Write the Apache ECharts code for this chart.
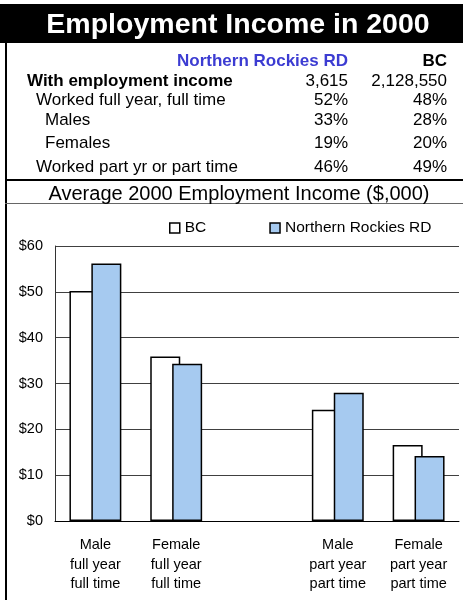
<!DOCTYPE html>
<html>
<head>
<meta charset="utf-8">
<script src="https://cdn.jsdelivr.net/npm/echarts@6/dist/echarts.min.js"></script>
<style>
html,body{margin:0;padding:0;background:#fff;}
#chart{width:463px;height:600px;}
</style>
</head>
<body>
<div id="chart"></div>
<script>
// ---- Data ----
var titleText = 'Employment Income in 2000';
var subtitleText = 'Average 2000 Employment Income ($,000)';
var tableHeaders = ['Northern Rockies RD', 'BC'];
var rowLabels = ['With employment income', 'Worked full year, full time', 'Males', 'Females', 'Worked part yr or part time'];
var nrTable = ['3,615', '52%', '33%', '19%', '46%'];
var bcTable = ['2,128,550', '48%', '28%', '20%', '49%'];

var categories = ['Male\nfull year\nfull time', 'Female\nfull year\nfull time', '', 'Male\npart year\npart time', 'Female\npart year\npart time'];
var seriesNames = ['BC', 'Northern Rockies RD'];
var bcValues = [50.2, 35.9, null, 24.3, 16.6];
var nrValues = [56.2, 34.3, null, 28.0, 14.2];

// ---- Layout ----
var FONT = 'Liberation Sans, Arial, sans-serif';
var rowY = [81, 100, 120, 143, 167];
var rowX = [27, 36, 45, 45, 36];
var rowBold = [true, false, false, false, false];

var graphics = [
  {type:'rect', shape:{x:0,y:4,width:463,height:39}, style:{fill:'#000'}},
  {type:'text', x:238, y:25, style:{text:titleText, fill:'#fff', font:'bold 28.5px ' + FONT, textAlign:'center', textVerticalAlign:'middle'}},
  {type:'rect', shape:{x:5,y:43,width:2,height:557}, style:{fill:'#000'}},
  {type:'rect', shape:{x:5,y:179,width:458,height:2}, style:{fill:'#000'}},
  {type:'rect', shape:{x:5,y:203,width:458,height:1}, style:{fill:'#666'}},
  {type:'text', x:239, y:194, style:{text:subtitleText, fill:'#000', font:'20px ' + FONT, textAlign:'center', textVerticalAlign:'middle'}},
  {type:'text', x:348, y:61, style:{text:tableHeaders[0], fill:'#3c3cd2', font:'bold 17px ' + FONT, textAlign:'right', textVerticalAlign:'middle'}},
  {type:'text', x:447, y:61, style:{text:tableHeaders[1], fill:'#000', font:'bold 17px ' + FONT, textAlign:'right', textVerticalAlign:'middle'}}
];
rowLabels.forEach(function(lbl, i){
  graphics.push({type:'text', x:rowX[i], y:rowY[i], style:{text:lbl, fill:'#000', font:(rowBold[i]?'bold ':'') + '17px ' + FONT, textAlign:'left', textVerticalAlign:'middle'}});
  graphics.push({type:'text', x:348, y:rowY[i], style:{text:nrTable[i], fill:'#000', font:'17px ' + FONT, textAlign:'right', textVerticalAlign:'middle'}});
  graphics.push({type:'text', x:447, y:rowY[i], style:{text:bcTable[i], fill:'#000', font:'17px ' + FONT, textAlign:'right', textVerticalAlign:'middle'}});
});

var chart = echarts.init(document.getElementById('chart'), null, {renderer:'canvas'});
chart.setOption({
  animation: false,
  backgroundColor: '#fff',
  textStyle: {fontFamily: FONT},
  graphic: graphics,
  legend: {
    data: seriesNames,
    left: 164,
    top: 215,
    itemWidth: 10,
    itemHeight: 10,
    itemGap: 63,
    icon: 'rect',
    textStyle: {fontSize: 15.5, color: '#000', fontFamily: FONT},
    itemStyle: {borderColor: '#000', borderWidth: 1.5}
  },
  grid: {left: 55, right: 4, top: 246, bottom: 79, containLabel: false},
  xAxis: {
    type: 'category',
    data: categories,
    axisLine: {lineStyle: {color: '#000', width: 1}},
    axisTick: {show: false},
    axisLabel: {fontSize: 14.5, color: '#000', lineHeight: 19.7, margin: 14, interval: 0, fontFamily: FONT},
    splitLine: {show: false}
  },
  yAxis: {
    type: 'value',
    min: 0, max: 60, interval: 10,
    axisLine: {show: true, lineStyle: {color: '#333', width: 1}},
    axisTick: {show: false},
    axisLabel: {formatter: '${value}', fontSize: 14.5, color: '#000', margin: 12, fontFamily: FONT},
    splitLine: {lineStyle: {color: '#404040', width: 1}}
  },
  series: [
    {name: seriesNames[0], type: 'bar', data: bcValues, barWidth: 30, barGap: '-27%',
     itemStyle: {color: '#ffffff', borderColor: '#000', borderWidth: 1.5}},
    {name: seriesNames[1], type: 'bar', data: nrValues, barWidth: 30, barGap: '-27%',
     itemStyle: {color: '#a6caf0', borderColor: '#000', borderWidth: 1.5}}
  ]
});
</script>
</body>
</html>
